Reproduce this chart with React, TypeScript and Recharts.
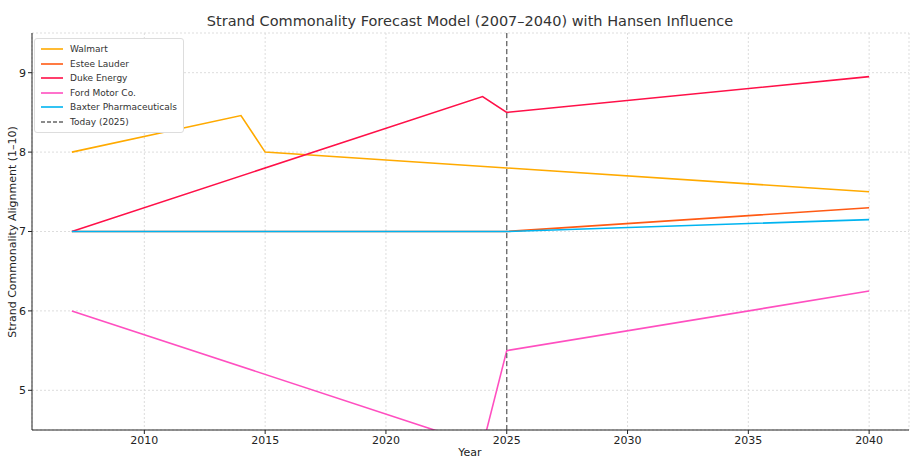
import { LineChart, Line, XAxis, YAxis, CartesianGrid, ReferenceLine } from "recharts"

const walmart = [
  { year: 2007, v: 8.0 }, { year: 2014, v: 8.46 }, { year: 2015, v: 8.0 },
  { year: 2025, v: 7.8 }, { year: 2040, v: 7.5 },
]
const esteeLauder = [{ year: 2007, v: 7.0 }, { year: 2025, v: 7.0 }, { year: 2040, v: 7.3 }]
const dukeEnergy = [{ year: 2007, v: 7.0 }, { year: 2024, v: 8.7 }, { year: 2025, v: 8.5 }, { year: 2040, v: 8.95 }]
const ford = [{ year: 2007, v: 6.0 }, { year: 2024, v: 4.3 }, { year: 2025, v: 5.5 }, { year: 2040, v: 6.25 }]
const baxter = [{ year: 2007, v: 7.0 }, { year: 2025, v: 7.0 }, { year: 2040, v: 7.15 }]

const xTicks = [2010, 2015, 2020, 2025, 2030, 2035, 2040]
const yTicks = [5, 6, 7, 8, 9]

const series = [
  { name: "Walmart", data: walmart, color: "#ffaa00" },
  { name: "Estee Lauder", data: esteeLauder, color: "#ff5a14" },
  { name: "Duke Energy", data: dukeEnergy, color: "#ff1048" },
  { name: "Ford Motor Co.", data: ford, color: "#ff4fc0" },
  { name: "Baxter Pharmaceuticals", data: baxter, color: "#00b4f0" },
]

const font = "'DejaVu Sans', sans-serif"

export default function App() {
  return (
    <div style={{ position: "absolute", left: 0, top: 0, width: 916, height: 467, background: "#fff", fontFamily: font }}>
      <div style={{ position: "absolute", top: 13, width: 940, textAlign: "center", fontSize: 14.5, color: "#333" }}>
        Strand Commonality Forecast Model (2007–2040) with Hansen Influence
      </div>
      <div style={{ position: "absolute", left: 12, top: 232, width: 0, height: 0 }}>
        <div style={{ position: "absolute", transform: "translate(-50%, -50%) rotate(-90deg)", whiteSpace: "nowrap", fontSize: 11, color: "#222" }}>
          Strand Commonality Alignment (1–10)
        </div>
      </div>
      <div style={{ position: "absolute", left: 0, top: 446, width: 940, textAlign: "center", fontSize: 11, color: "#222" }}>Year</div>
      <LineChart width={916} height={467} margin={{ top: 33, right: 7, bottom: 17, left: 0 }}>
        <CartesianGrid stroke="#ddd" strokeDasharray="2 2" />
        <XAxis type="number" dataKey="year" domain={[2005.35, 2041.65]} ticks={xTicks} allowDuplicatedCategory={false}
          height={20} stroke="#222" tick={{ fontSize: 11, fill: "#222", fontFamily: font }} tickSize={4} />
        <YAxis type="number" domain={[4.5, 9.5]} ticks={yTicks} allowDataOverflow width={32}
          stroke="#222" tick={{ fontSize: 11, fill: "#222", fontFamily: font }} tickSize={4} />
        {series.map((s) => (
          <Line key={s.name} data={s.data} dataKey="v" name={s.name} stroke={s.color} strokeWidth={1.6}
            dot={false} isAnimationActive={false} type="linear" />
        ))}
        <ReferenceLine x={2025} stroke="#666" strokeDasharray="5 3" strokeWidth={1.3} />
      </LineChart>
      <div style={{ position: "absolute", left: 34, top: 38, border: "1px solid #ddd", borderRadius: 3, background: "#fff", padding: "3px 6px", fontSize: 9, color: "#333" }}>
        {[...series.map((s) => ({ name: s.name, color: s.color, dash: false })), { name: "Today (2025)", color: "#666", dash: true }].map((l) => (
          <div key={l.name} style={{ display: "flex", alignItems: "center", height: 14.5 }}>
            <svg width={22} height={4} style={{ marginRight: 7 }}>
              <line x1={0} y1={2} x2={22} y2={2} stroke={l.color} strokeWidth={1.6} strokeDasharray={l.dash ? "4 2" : undefined} />
            </svg>
            {l.name}
          </div>
        ))}
      </div>
    </div>
  )
}
